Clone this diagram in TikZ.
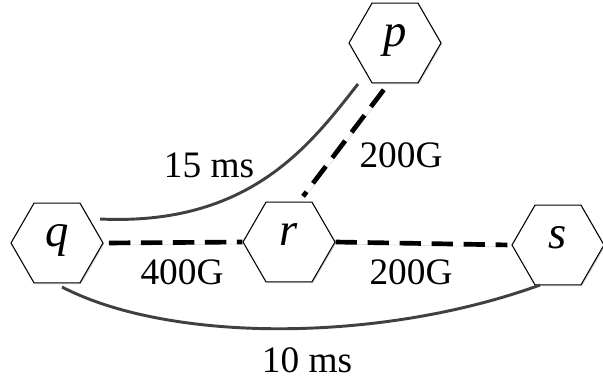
\documentclass[tikz,border=0pt]{standalone}
\usepackage{fontspec}
\setmainfont{Liberation Serif}
\usetikzlibrary{shapes.geometric,calc,shadows}
\begin{document}
\begin{tikzpicture}[x=0.75pt,y=-0.75pt,
  hexnode/.style={regular polygon, regular polygon sides=6, draw=black, line width=0.8pt,
    fill=white, minimum size=69pt, inner sep=0pt,
    text height=0.7em, text depth=0.22em,
    font=\fontsize{35}{40}\selectfont\itshape,
    drop shadow={shadow xshift=0.9pt, shadow yshift=-0.9pt, opacity=0.3, fill=gray}},
  lbl/.style={font=\fontsize{28}{32}\selectfont, inner sep=0pt},
  bw/.style={draw=black, line width=3.5pt, dash pattern=on 16pt off 8pt,
    preaction={draw=gray, opacity=0.3, transform canvas={xshift=0.8pt, yshift=-1.5pt}}},
  lat/.style={draw=black!75, line width=2.2pt}]
\useasboundingbox (0,0) rectangle (603,380);

\node[hexnode] (p) at (395,43) {p};
\node[hexnode] (q) at (57,243) {q};
\node[hexnode] (r) at (289,242) {r};
\node[hexnode] (s) at (558,245) {s};

% latency curves
\coordinate (qa) at ($(q.center)+(43,-24)$);
\coordinate (pa) at ($(p.center)+(-37,41)$);
\draw[lat] (qa) .. controls (250,226) and (310,145) .. (pa);
\coordinate (qb) at ($(q.center)+(5,44)$);
\coordinate (sb) at ($(s.center)+(-18,40)$);
\draw[lat] (qb) .. controls (170,343) and (380,343) .. (sb);

% bandwidth links
\draw[bw, shorten <=6pt, shorten >=5pt] (p.261) -- (r.76);
\draw[bw, shorten <=4pt] (q.east) -- (r.west);
\draw[bw, shorten >=3pt] (r.east) -- (s.west);

% labels
\node[lbl] (l15) at (209,165) {15 ms};
\node[lbl] (l200a) at (401,155) {200G};
\node[lbl] (l400) at (182,272) {400G};
\node[lbl] (l200b) at (411,272) {200G};
\node[lbl] (l10) at (307,360) {10 ms};
\end{tikzpicture}
\end{document}
